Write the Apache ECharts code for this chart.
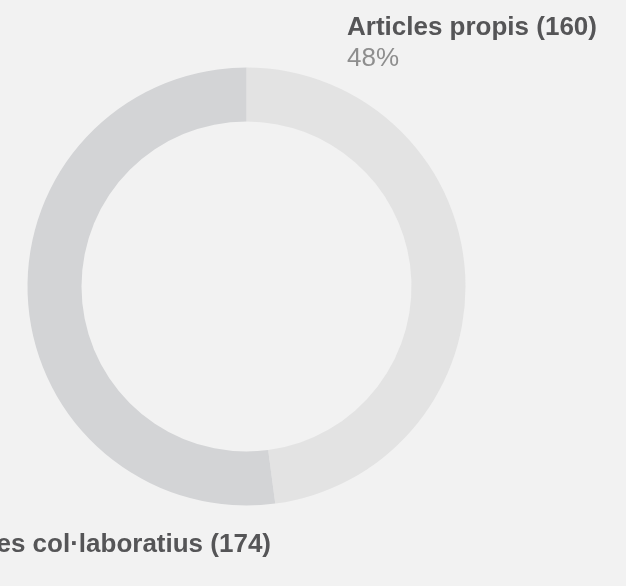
<!DOCTYPE html>
<html>
<head>
<meta charset="utf-8">
<script src="https://cdn.jsdelivr.net/npm/echarts@6/dist/echarts.min.js"></script>
<style>
  html, body { margin: 0; padding: 0; background: #f2f2f2; }
  #chart { width: 626px; height: 586px; }
</style>
</head>
<body>
<div id="chart"></div>
<script>
const categories = ['Articles propis', 'Articles col·laboratius'];
const counts = [160, 174];
const sliceColors = ['#e3e3e3', '#d3d4d6'];
const showPercent = [true, false];

const chart = echarts.init(document.getElementById('chart'), null, { renderer: 'canvas' });

const labelAnchors = [
  { x: 347, y: 12, align: 'left' },
  { x: 271, y: 529, align: 'right' }
];

chart.setOption({
  backgroundColor: '#f2f2f2',
  animation: false,
  series: [{
    type: 'pie',
    center: [246.5, 286.5],
    radius: [165, 219],
    startAngle: 90,
    clockwise: true,
    silent: true,
    avoidLabelOverlap: false,
    data: categories.map((c, i) => ({
      name: c,
      value: counts[i],
      itemStyle: { color: sliceColors[i] }
    })),
    itemStyle: { borderWidth: 0 },
    label: {
      show: true,
      position: 'outside',
      overflow: 'none',
      bleedMargin: 0,
      formatter: function (p) {
        let s = '{name|' + p.name + ' (' + p.value + ')}';
        if (showPercent[p.dataIndex]) s += '\n{pct|' + Math.round(p.percent) + '%}';
        return s;
      },
      rich: {
        name: { fontFamily: 'Liberation Sans, Arial, sans-serif', fontSize: 26, fontWeight: 'bold', color: '#555557', lineHeight: 31 },
        pct: { fontFamily: 'Liberation Sans, Arial, sans-serif', fontSize: 26, fontWeight: 'normal', color: '#8e8e8e', lineHeight: 31 }
      }
    },
    labelLine: { show: false },
    labelLayout: function (params) {
      const a = labelAnchors[params.dataIndex];
      return { x: a.x, y: a.y, align: a.align, verticalAlign: 'top', hideOverlap: false, moveOverlap: false };
    },
    emphasis: { disabled: true }
  }]
});
</script>
</body>
</html>
